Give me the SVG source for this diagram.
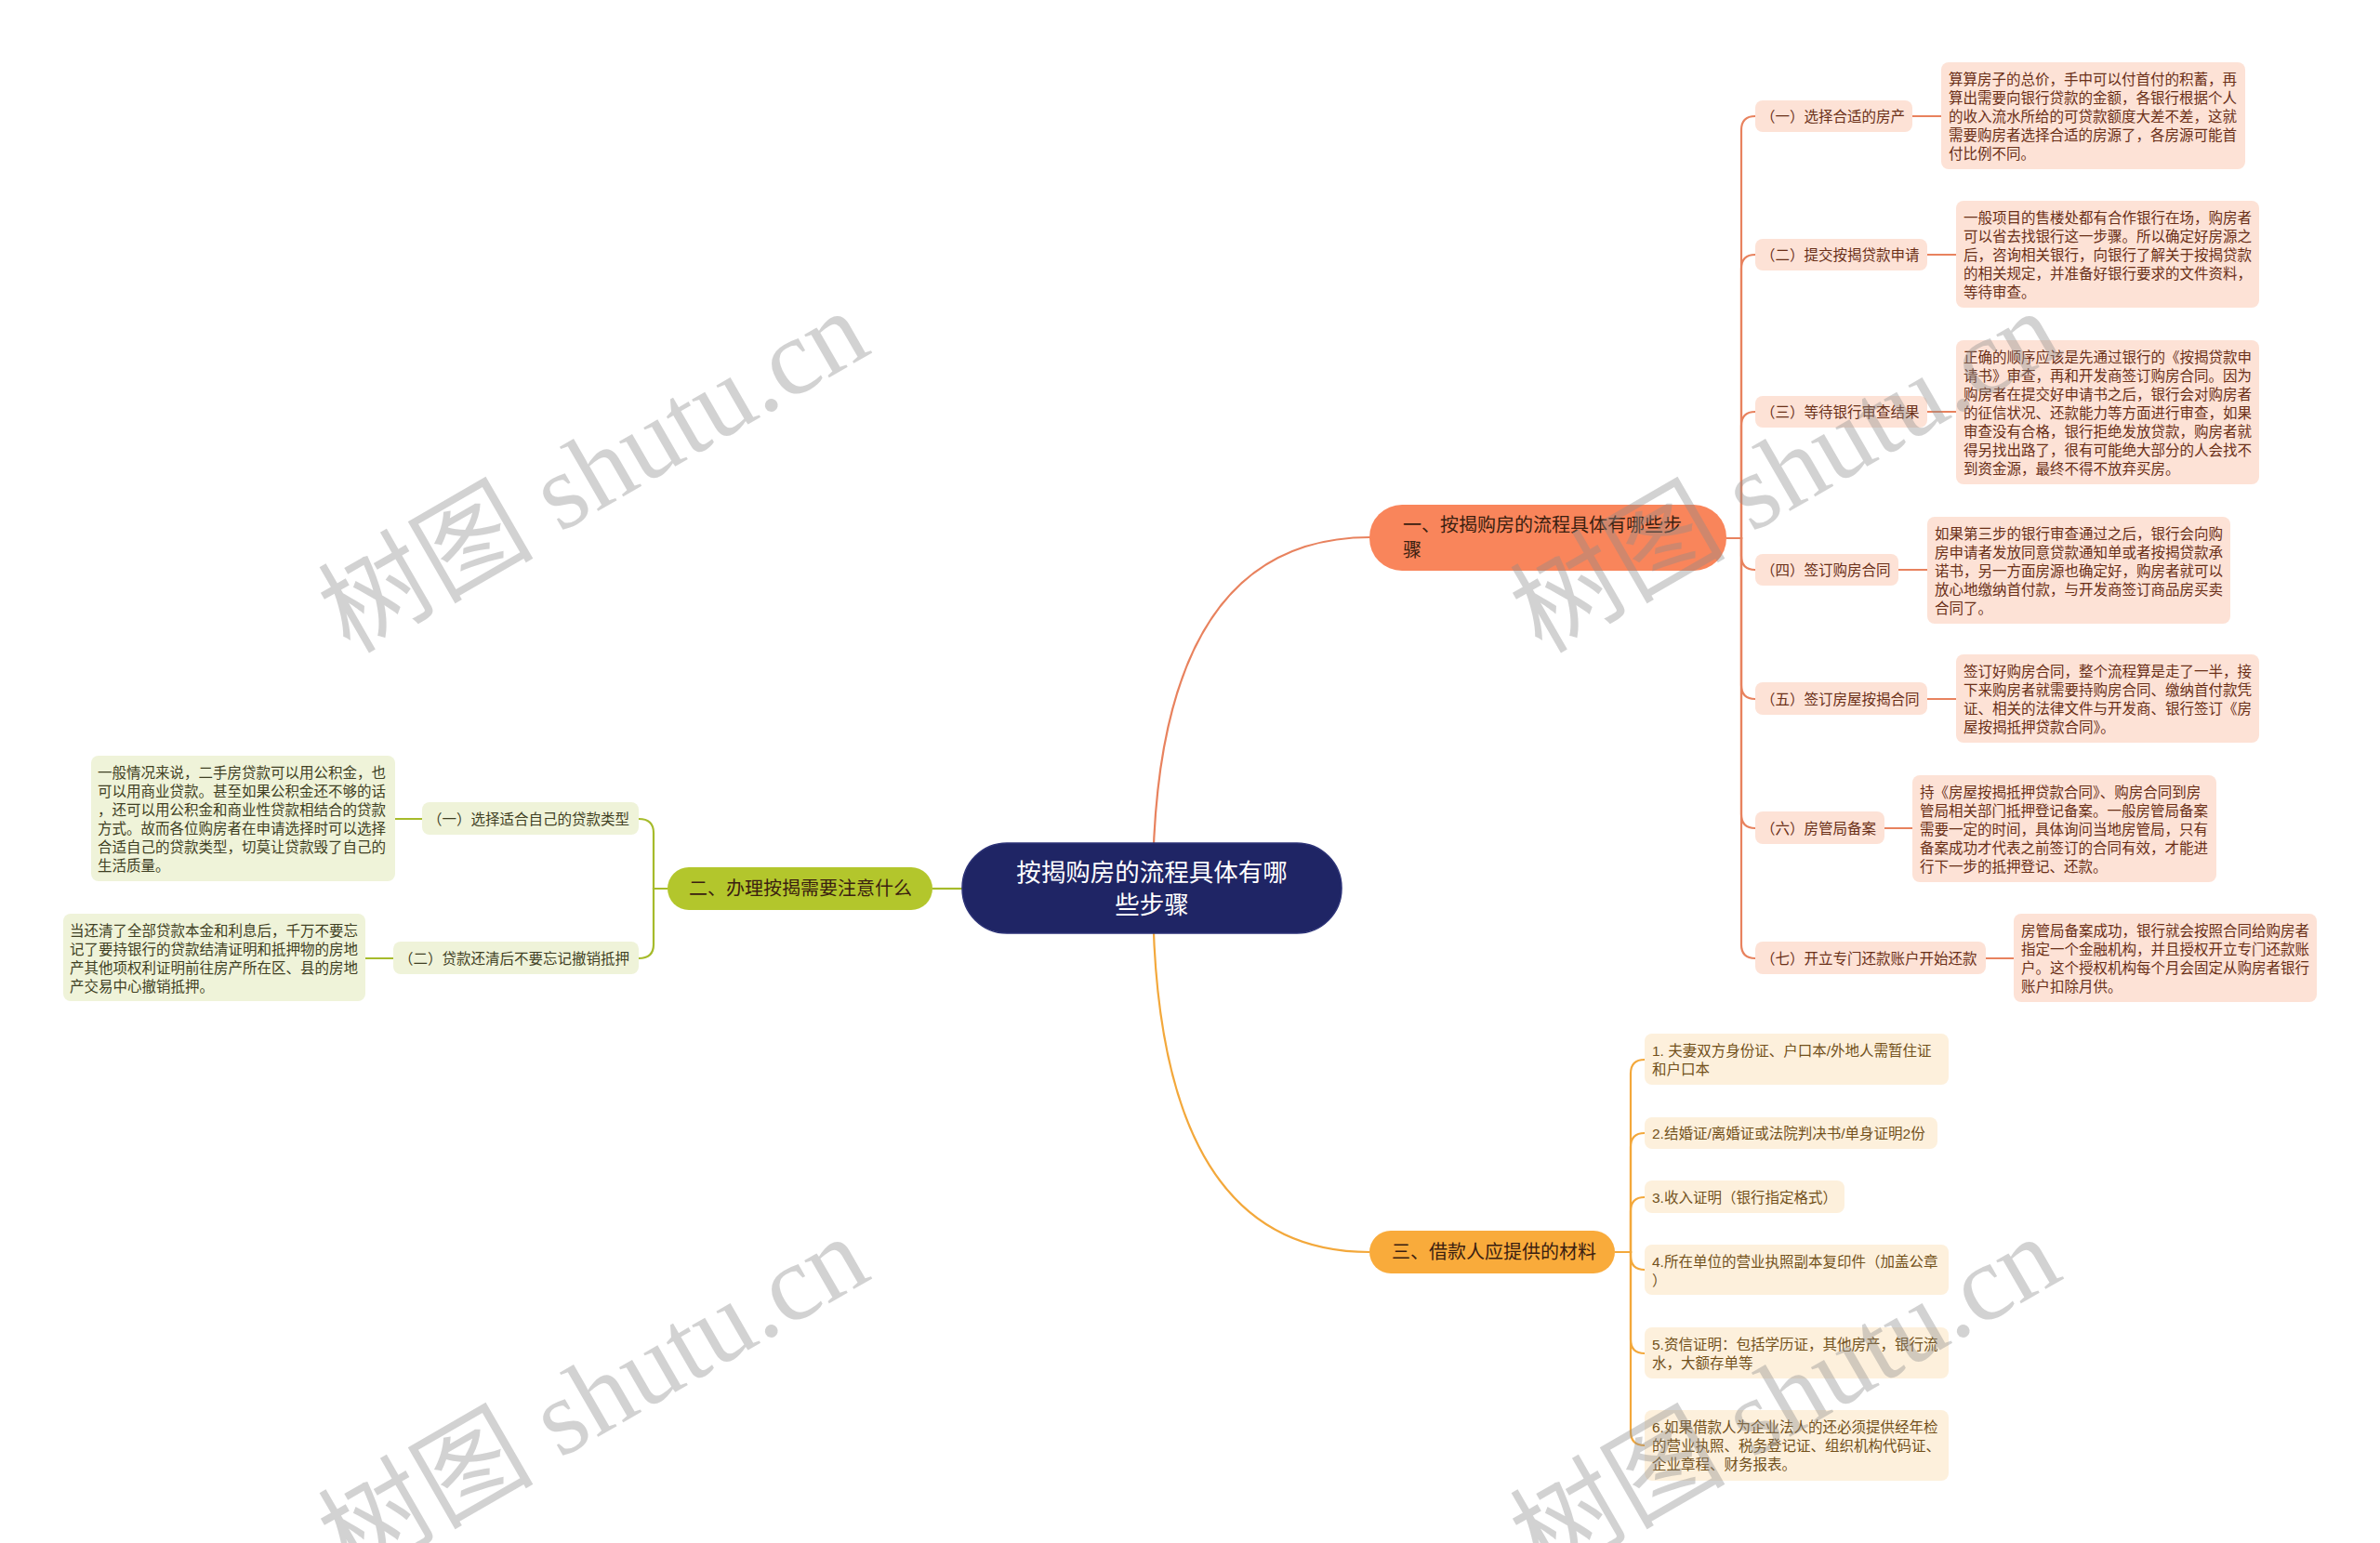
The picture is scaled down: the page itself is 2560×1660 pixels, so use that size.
<svg xmlns="http://www.w3.org/2000/svg" width="2560" height="1660" viewBox="0 0 2560 1660">
<style>
text{font-family:"Liberation Sans","Noto Sans CJK SC",sans-serif}
.c{fill:none;stroke-width:2.2}
.o{stroke:#e8825e}.y{stroke:#f3a83b}.g{stroke:#a6bb2b}
.ob{fill:#fde2d6}.yb{fill:#fdf0dc}.gb{fill:#eff3d9}
.ot{fill:#6a2f17;font-size:15.5px}
.yt{fill:#72501a;font-size:15.5px}
.gt{fill:#3f3f23;font-size:15.5px}
.bt{fill:#3a2010;font-size:20px}
.wm{font-family:"Liberation Serif","Noto Sans CJK SC",serif;font-size:116px;fill:#8c8c8c;opacity:.38}
</style>
<rect width="2560" height="1660" fill="#ffffff"/>
<g id="connectors">
<path class="c o" d="M1240 956 Q1240 578 1474 578"/>
<path class="c y" d="M1240 956 Q1240 1347 1473 1347"/>
<path class="c g" d="M1035 956 H1003"/>
<path class="c o" d="M1857 579 H1873 V140 Q1873 125 1888 125"/>
<path class="c o" d="M1857 579 H1873 V289 Q1873 274 1888 274"/>
<path class="c o" d="M1857 579 H1873 V458 Q1873 443 1888 443"/>
<path class="c o" d="M1857 579 H1873 V598 Q1873 613 1888 613"/>
<path class="c o" d="M1857 579 H1873 V737 Q1873 752 1888 752"/>
<path class="c o" d="M1857 579 H1873 V876 Q1873 891 1888 891"/>
<path class="c o" d="M1857 579 H1873 V1016 Q1873 1031 1888 1031"/>
<path class="c o" d="M2057 125 H2088 M2073 274 H2104 M2073 443 H2104 M2042 613 H2073 M2073 752 H2104 M2027 891 H2057 M2136 1031 H2166"/>
<path class="c y" d="M1737 1347 H1754 V1155 Q1754 1140 1769 1140"/>
<path class="c y" d="M1737 1347 H1754 V1234 Q1754 1219 1769 1219"/>
<path class="c y" d="M1737 1347 H1754 V1303 Q1754 1288 1769 1288"/>
<path class="c y" d="M1737 1347 H1754 V1351 Q1754 1366 1769 1366"/>
<path class="c y" d="M1737 1347 H1754 V1441 Q1754 1456 1769 1456"/>
<path class="c y" d="M1737 1347 H1754 V1540 Q1754 1555 1769 1555"/>
<path class="c g" d="M718 956 H703 V896 Q703 881 687 881"/>
<path class="c g" d="M718 956 H703 V1016 Q703 1031 687 1031"/>
<path class="c g" d="M454 881 H425 M423 1031 H393"/>
</g>
<g id="root">
<rect x="1035" y="907" width="408" height="97" rx="48" fill="#1f2565" stroke="#2c3277" stroke-width="1.5"/>
<text x="1239" y="948" text-anchor="middle" font-size="26.5" fill="#ffffff">按揭购房的流程具体有哪</text>
<text x="1239" y="983" text-anchor="middle" font-size="26.5" fill="#ffffff">些步骤</text>
</g>
<g id="b1">
<rect x="1473" y="543" width="384" height="71" rx="35" fill="#f9855b"/>
<text class="bt" x="1509" y="572">一、按揭购房的流程具体有哪些步</text>
<text class="bt" x="1509" y="599">骤</text>
</g>
<g id="b2">
<rect x="718" y="933" width="285" height="46" rx="23" fill="#b3c62c"/>
<text class="bt" x="741" y="963">二、办理按揭需要注意什么</text>
</g>
<g id="b3">
<rect x="1473" y="1324" width="264" height="46" rx="23" fill="#f9ab3b"/>
<text class="bt" x="1497" y="1354">三、借款人应提供的材料</text>
</g>
<g id="s1">
<rect class="ob" x="1888" y="108" width="169" height="34" rx="8"/>
<text class="ot" x="1894" y="130.5">（一）选择合适的房产</text>
</g>
<g id="d1">
<rect class="ob" x="2088" y="67" width="327" height="115" rx="8"/>
<text class="ot"><tspan x="2096" y="90.5">算算房子的总价，手中可以付首付的积蓄，再</tspan><tspan x="2096" y="110.5">算出需要向银行贷款的金额，各银行根据个人</tspan><tspan x="2096" y="130.5">的收入流水所给的可贷款额度大差不差，这就</tspan><tspan x="2096" y="150.5">需要购房者选择合适的房源了，各房源可能首</tspan><tspan x="2096" y="170.5">付比例不同。</tspan></text>
</g>
<g id="s2">
<rect class="ob" x="1888" y="257" width="185" height="34" rx="8"/>
<text class="ot" x="1894" y="279.5">（二）提交按揭贷款申请</text>
</g>
<g id="d2">
<rect class="ob" x="2104" y="216" width="326" height="115" rx="8"/>
<text class="ot"><tspan x="2112" y="239.5">一般项目的售楼处都有合作银行在场，购房者</tspan><tspan x="2112" y="259.5">可以省去找银行这一步骤。所以确定好房源之</tspan><tspan x="2112" y="279.5">后，咨询相关银行，向银行了解关于按揭贷款</tspan><tspan x="2112" y="299.5">的相关规定，并准备好银行要求的文件资料，</tspan><tspan x="2112" y="319.5">等待审查。</tspan></text>
</g>
<g id="s3">
<rect class="ob" x="1888" y="426" width="185" height="34" rx="8"/>
<text class="ot" x="1894" y="448.5">（三）等待银行审查结果</text>
</g>
<g id="d3">
<rect class="ob" x="2104" y="366" width="326" height="155" rx="8"/>
<text class="ot"><tspan x="2112" y="389.5">正确的顺序应该是先通过银行的《按揭贷款申</tspan><tspan x="2112" y="409.5">请书》审查，再和开发商签订购房合同。因为</tspan><tspan x="2112" y="429.5">购房者在提交好申请书之后，银行会对购房者</tspan><tspan x="2112" y="449.5">的征信状况、还款能力等方面进行审查，如果</tspan><tspan x="2112" y="469.5">审查没有合格，银行拒绝发放贷款，购房者就</tspan><tspan x="2112" y="489.5">得另找出路了，很有可能绝大部分的人会找不</tspan><tspan x="2112" y="509.5">到资金源，最终不得不放弃买房。</tspan></text>
</g>
<g id="s4">
<rect class="ob" x="1888" y="596" width="154" height="34" rx="8"/>
<text class="ot" x="1894" y="618.5">（四）签订购房合同</text>
</g>
<g id="d4">
<rect class="ob" x="2073" y="556" width="326" height="115" rx="8"/>
<text class="ot"><tspan x="2081" y="579.5">如果第三步的银行审查通过之后，银行会向购</tspan><tspan x="2081" y="599.5">房申请者发放同意贷款通知单或者按揭贷款承</tspan><tspan x="2081" y="619.5">诺书，另一方面房源也确定好，购房者就可以</tspan><tspan x="2081" y="639.5">放心地缴纳首付款，与开发商签订商品房买卖</tspan><tspan x="2081" y="659.5">合同了。</tspan></text>
</g>
<g id="s5">
<rect class="ob" x="1888" y="734" width="185" height="35" rx="8"/>
<text class="ot" x="1894" y="757.5">（五）签订房屋按揭合同</text>
</g>
<g id="d5">
<rect class="ob" x="2104" y="704" width="326" height="95" rx="8"/>
<text class="ot"><tspan x="2112" y="727.5">签订好购房合同，整个流程算是走了一半，接</tspan><tspan x="2112" y="747.5">下来购房者就需要持购房合同、缴纳首付款凭</tspan><tspan x="2112" y="767.5">证、相关的法律文件与开发商、银行签订《房</tspan><tspan x="2112" y="787.5">屋按揭抵押贷款合同》。</tspan></text>
</g>
<g id="s6">
<rect class="ob" x="1888" y="873" width="139" height="35" rx="8"/>
<text class="ot" x="1894" y="896.5">（六）房管局备案</text>
</g>
<g id="d6">
<rect class="ob" x="2057" y="834" width="327" height="115" rx="8"/>
<text class="ot"><tspan x="2065" y="857.5">持《房屋按揭抵押贷款合同》、购房合同到房</tspan><tspan x="2065" y="877.5">管局相关部门抵押登记备案。一般房管局备案</tspan><tspan x="2065" y="897.5">需要一定的时间，具体询问当地房管局，只有</tspan><tspan x="2065" y="917.5">备案成功才代表之前签订的合同有效，才能进</tspan><tspan x="2065" y="937.5">行下一步的抵押登记、还款。</tspan></text>
</g>
<g id="s7">
<rect class="ob" x="1888" y="1013" width="248" height="35" rx="8"/>
<text class="ot" x="1894" y="1036.5">（七）开立专门还款账户开始还款</text>
</g>
<g id="d7">
<rect class="ob" x="2166" y="983" width="326" height="95" rx="8"/>
<text class="ot"><tspan x="2174" y="1006.5">房管局备案成功，银行就会按照合同给购房者</tspan><tspan x="2174" y="1026.5">指定一个金融机构，并且授权开立专门还款账</tspan><tspan x="2174" y="1046.5">户。这个授权机构每个月会固定从购房者银行</tspan><tspan x="2174" y="1066.5">账户扣除月供。</tspan></text>
</g>
<g id="m1">
<rect class="yb" x="1769" y="1112" width="327" height="55" rx="8"/>
<text class="yt"><tspan x="1777" y="1135.5">1. 夫妻双方身份证、户口本/外地人需暂住证</tspan><tspan x="1777" y="1155.5">和户口本</tspan></text>
</g>
<g id="m2">
<rect class="yb" x="1769" y="1202" width="315" height="34" rx="8"/>
<text class="yt" x="1777" y="1224.5">2.结婚证/离婚证或法院判决书/单身证明2份</text>
</g>
<g id="m3">
<rect class="yb" x="1769" y="1270" width="215" height="35" rx="8"/>
<text class="yt" x="1777" y="1293.5">3.收入证明（银行指定格式）</text>
</g>
<g id="m4">
<rect class="yb" x="1769" y="1339" width="327" height="54" rx="8"/>
<text class="yt"><tspan x="1777" y="1362.5">4.所在单位的营业执照副本复印件（加盖公章</tspan><tspan x="1777" y="1382.5">）</tspan></text>
</g>
<g id="m5">
<rect class="yb" x="1769" y="1428" width="327" height="55" rx="8"/>
<text class="yt"><tspan x="1777" y="1451.5">5.资信证明：包括学历证，其他房产，银行流</tspan><tspan x="1777" y="1471.5">水，大额存单等</tspan></text>
</g>
<g id="m6">
<rect class="yb" x="1769" y="1517" width="327" height="76" rx="8"/>
<text class="yt"><tspan x="1777" y="1540.5">6.如果借款人为企业法人的还必须提供经年检</tspan><tspan x="1777" y="1560.5">的营业执照、税务登记证、组织机构代码证、</tspan><tspan x="1777" y="1580.5">企业章程、财务报表。</tspan></text>
</g>
<g id="l1">
<rect class="gb" x="454" y="863" width="233" height="35" rx="8"/>
<text class="gt" x="460" y="886.5">（一）选择适合自己的贷款类型</text>
</g>
<g id="ld1">
<rect class="gb" x="98" y="813" width="327" height="135" rx="8"/>
<text class="gt"><tspan x="105" y="836.5">一般情况来说，二手房贷款可以用公积金，也</tspan><tspan x="105" y="856.5">可以用商业贷款。甚至如果公积金还不够的话</tspan><tspan x="105" y="876.5">，还可以用公积金和商业性贷款相结合的贷款</tspan><tspan x="105" y="896.5">方式。故而各位购房者在申请选择时可以选择</tspan><tspan x="105" y="916.5">合适自己的贷款类型，切莫让贷款毁了自己的</tspan><tspan x="105" y="936.5">生活质量。</tspan></text>
</g>
<g id="l2">
<rect class="gb" x="423" y="1013" width="264" height="35" rx="8"/>
<text class="gt" x="429" y="1036.5">（二）贷款还清后不要忘记撤销抵押</text>
</g>
<g id="ld2">
<rect class="gb" x="68" y="983" width="325" height="94" rx="8"/>
<text class="gt"><tspan x="75" y="1006.5">当还清了全部贷款本金和利息后，千万不要忘</tspan><tspan x="75" y="1026.5">记了要持银行的贷款结清证明和抵押物的房地</tspan><tspan x="75" y="1046.5">产其他项权利证明前往房产所在区、县的房地</tspan><tspan x="75" y="1066.5">产交易中心撤销抵押。</tspan></text>
</g>
<g id="watermarks">
<text class="wm" transform="translate(376 704) rotate(-30)">树图 shutu.cn</text>
<text class="wm" transform="translate(1658 704) rotate(-30)">树图 shutu.cn</text>
<text class="wm" transform="translate(376 1700) rotate(-30)">树图 shutu.cn</text>
<text class="wm" transform="translate(1658 1700) rotate(-30)">树图 shutu.cn</text>
</g>
</svg>
